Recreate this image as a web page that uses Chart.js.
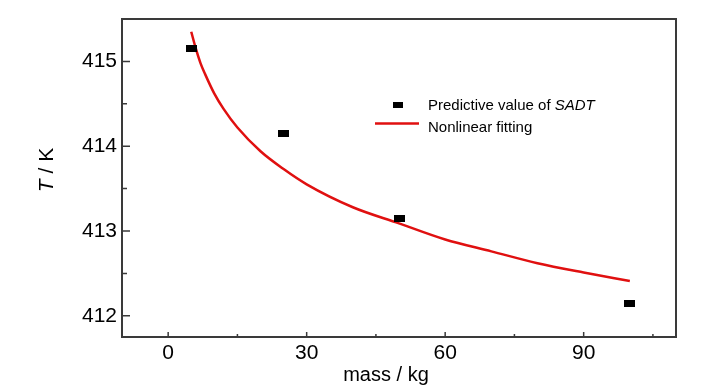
<!DOCTYPE html>
<html>
<head>
<meta charset="utf-8">
<script src="https://cdn.jsdelivr.net/npm/chart.js@4.4.0/dist/chart.umd.min.js"></script>
<style>
  html, body { margin: 0; padding: 0; background: #fff; }
  #wrap { width: 728px; height: 390px; }
</style>
</head>
<body>
<div id="wrap"><canvas id="chart"></canvas></div>
<script>
// predicted SADT values
const massPoints = [5, 25, 50, 100];
const sadtValues = [415.15, 414.15, 413.15, 412.15];

// nonlinear fitting curve
const fitMass = [5, 6, 7, 8, 10, 12, 15, 20, 25, 30, 40, 50, 60, 70, 80, 90, 100];
const fitValues = [415.35, 415.15, 414.98, 414.85, 414.62, 414.44, 414.22, 413.94, 413.73,
  413.55, 413.28, 413.09, 412.90, 412.76, 412.62, 412.51, 412.41];

const xTicks = [0, 30, 60, 90];
const xMinorTicks = [15, 45, 75, 105];
const yTicks = [412, 413, 414, 415];
const yMinorTicks = [412.5, 413.5, 414.5];

const AXIS_COLOR = '#3a3a3a';
const FIT_COLOR = '#e01010';
const TICK_FONT = "'Liberation Sans Narrow', 'Liberation Sans', Arial, sans-serif";
const TEXT_FONT = "'Liberation Sans', Arial, sans-serif";

// small wide black rectangle used as point marker
const marker = document.createElement('canvas');
marker.width = 11;
marker.height = 7;
const mctx = marker.getContext('2d');
mctx.fillStyle = '#000';
mctx.fillRect(0, 0, 11, 7);

const framePlugin = {
  id: 'frame',
  afterDraw(chart) {
    const ctx = chart.ctx;
    const { left, right, top, bottom } = chart.chartArea;
    const xs = chart.scales.x;
    const ys = chart.scales.y;
    ctx.save();
    ctx.strokeStyle = AXIS_COLOR;
    ctx.lineWidth = 2;
    ctx.strokeRect(left, top, right - left, bottom - top);

    // inward ticks
    ctx.lineWidth = 1.5;
    ctx.beginPath();
    xTicks.forEach(v => {
      const p = xs.getPixelForValue(v);
      ctx.moveTo(p, bottom); ctx.lineTo(p, bottom - 5);
    });
    xMinorTicks.forEach(v => {
      const p = xs.getPixelForValue(v);
      ctx.moveTo(p, bottom); ctx.lineTo(p, bottom - 3);
    });
    yTicks.forEach(v => {
      const p = ys.getPixelForValue(v);
      ctx.moveTo(left, p); ctx.lineTo(left + 8, p);
    });
    yMinorTicks.forEach(v => {
      const p = ys.getPixelForValue(v);
      ctx.moveTo(left, p); ctx.lineTo(left + 5, p);
    });
    ctx.stroke();

    // axis titles
    ctx.fillStyle = '#000';
    ctx.textBaseline = 'middle';
    ctx.font = '20px ' + TEXT_FONT;
    ctx.textAlign = 'center';
    ctx.fillText('mass / kg', 386, 375);

    ctx.save();
    ctx.translate(47, 170);
    ctx.rotate(-Math.PI / 2);
    ctx.font = 'italic 21px ' + TEXT_FONT;
    const tW = ctx.measureText('T').width;
    ctx.font = '21px ' + TEXT_FONT;
    const restW = ctx.measureText(' / K').width;
    const x0 = -(tW + restW) / 2;
    ctx.textAlign = 'left';
    ctx.font = 'italic 21px ' + TEXT_FONT;
    ctx.fillText('T', x0, 0);
    ctx.font = '21px ' + TEXT_FONT;
    ctx.fillText(' / K', x0 + tW, 0);
    ctx.restore();

    // legend
    ctx.textAlign = 'left';
    ctx.textBaseline = 'alphabetic';
    ctx.drawImage(marker, 393, 102, 10, 6);
    ctx.font = '15px ' + TEXT_FONT;
    const label = 'Predictive value of ';
    ctx.fillText(label, 428, 110);
    const lw = ctx.measureText(label).width;
    ctx.font = 'italic 15px ' + TEXT_FONT;
    ctx.fillText('SADT', 428 + lw, 110);

    ctx.strokeStyle = FIT_COLOR;
    ctx.lineWidth = 2.5;
    ctx.beginPath();
    ctx.moveTo(375, 123.5);
    ctx.lineTo(419, 123.5);
    ctx.stroke();
    ctx.font = '15px ' + TEXT_FONT;
    ctx.fillText('Nonlinear fitting', 428, 132);
    ctx.restore();
  }
};

new Chart(document.getElementById('chart'), {
  type: 'scatter',
  data: {
    datasets: [
      {
        label: 'Predictive value of SADT',
        data: massPoints.map((m, i) => ({ x: m, y: sadtValues[i] })),
        pointStyle: marker,
        pointRadius: 5,
        showLine: false
      },
      {
        label: 'Nonlinear fitting',
        data: fitMass.map((m, i) => ({ x: m, y: fitValues[i] })),
        showLine: true,
        borderColor: FIT_COLOR,
        borderWidth: 2.5,
        pointRadius: 0,
        cubicInterpolationMode: 'monotone'
      }
    ]
  },
  options: {
    responsive: true,
    maintainAspectRatio: false,
    animation: false,
    layout: { padding: { top: 19, right: 52, left: 0, bottom: 0 } },
    plugins: {
      legend: { display: false },
      tooltip: { enabled: false }
    },
    scales: {
      x: {
        type: 'linear',
        min: -10,
        max: 110,
        afterBuildTicks(scale) { scale.ticks = xTicks.map(v => ({ value: v })); },
        afterFit(scale) { scale.height = 53; },
        grid: { display: false, drawTicks: false },
        border: { display: false },
        ticks: {
          color: '#000',
          padding: 4,
          font: { family: TICK_FONT, size: 21 }
        }
      },
      y: {
        min: 411.75,
        max: 415.5,
        afterBuildTicks(scale) { scale.ticks = yTicks.map(v => ({ value: v })); },
        afterFit(scale) { scale.width = 122; },
        grid: { display: false, drawTicks: false },
        border: { display: false },
        ticks: {
          color: '#000',
          padding: 5,
          font: { family: TICK_FONT, size: 21 }
        }
      }
    }
  },
  plugins: [framePlugin]
});
</script>
</body>
</html>
